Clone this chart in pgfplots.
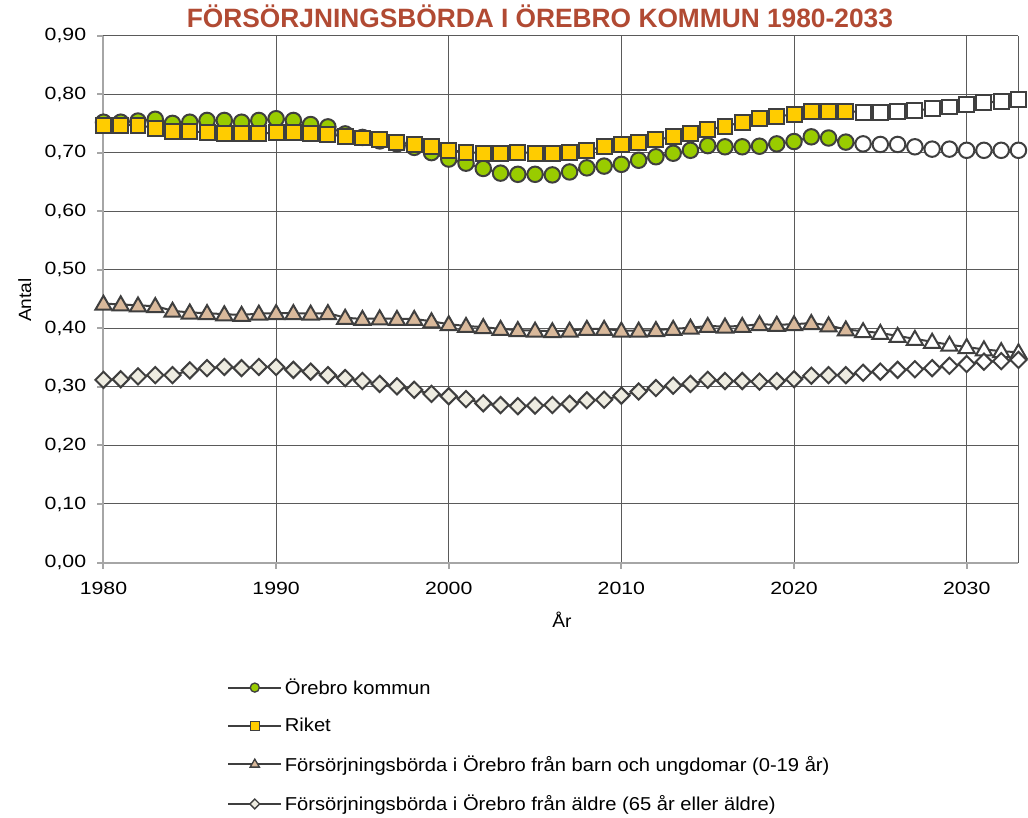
\documentclass[border=0pt]{standalone}
\usepackage{pgfplots}
\pgfplotsset{compat=1.18}
\usepackage{pgfplotstable}
\usepackage{graphicx}
\usepackage{fontspec}
\setmainfont[FakeStretch=1.08]{Liberation Sans}
\newfontfamily\tickfont[FakeStretch=1.2]{Liberation Sans}

\definecolor{kgreen}{HTML}{99CC00}
\definecolor{ryellow}{HTML}{FFCC00}
\definecolor{btan}{HTML}{D9B99B}
\definecolor{abeige}{HTML}{EEECE1}
\definecolor{edge}{HTML}{3F3F3F}
\definecolor{titlered}{HTML}{B14A33}
\definecolor{axgray}{HTML}{A6A6A6}
\definecolor{gridc}{HTML}{5A5A5A}

\pgfplotstableread{
year kom riket barn aldre
1980 0.752 0.747 0.442 0.312
1981 0.752 0.747 0.441 0.313
1982 0.754 0.747 0.439 0.318
1983 0.757 0.742 0.438 0.320
1984 0.750 0.736 0.430 0.320
1985 0.752 0.736 0.427 0.328
1986 0.755 0.735 0.426 0.332
1987 0.755 0.732 0.424 0.334
1988 0.752 0.732 0.423 0.332
1989 0.755 0.733 0.425 0.334
1990 0.758 0.734 0.426 0.334
1991 0.755 0.734 0.426 0.329
1992 0.748 0.732 0.425 0.326
1993 0.744 0.731 0.426 0.320
1994 0.732 0.728 0.418 0.315
1995 0.726 0.725 0.416 0.310
1996 0.720 0.722 0.417 0.305
1997 0.715 0.718 0.416 0.301
1998 0.709 0.714 0.416 0.295
1999 0.700 0.710 0.412 0.288
2000 0.689 0.704 0.407 0.284
2001 0.682 0.701 0.404 0.279
2002 0.673 0.699 0.402 0.272
2003 0.665 0.699 0.399 0.269
2004 0.663 0.701 0.397 0.267
2005 0.663 0.699 0.396 0.268
2006 0.662 0.699 0.395 0.269
2007 0.667 0.701 0.396 0.271
2008 0.674 0.704 0.399 0.277
2009 0.677 0.710 0.399 0.278
2010 0.680 0.714 0.396 0.285
2011 0.687 0.718 0.396 0.292
2012 0.693 0.722 0.397 0.298
2013 0.699 0.727 0.399 0.302
2014 0.704 0.732 0.401 0.305
2015 0.712 0.739 0.404 0.312
2016 0.710 0.745 0.403 0.310
2017 0.710 0.752 0.404 0.310
2018 0.711 0.759 0.407 0.309
2019 0.715 0.762 0.406 0.310
2020 0.719 0.765 0.407 0.313
2021 0.727 0.771 0.409 0.319
2022 0.725 0.771 0.405 0.320
2023 0.718 0.771 0.398 0.320
2024 0.715 0.769 0.395 0.324
2025 0.714 0.769 0.392 0.326
2026 0.714 0.771 0.387 0.329
2027 0.710 0.772 0.382 0.330
2028 0.706 0.775 0.377 0.332
2029 0.706 0.778 0.372 0.336
2030 0.704 0.782 0.368 0.339
2031 0.704 0.785 0.364 0.343
2032 0.704 0.788 0.361 0.344
2033 0.704 0.791 0.359 0.346
}\data

\begin{document}
\begin{tikzpicture}
\useasboundingbox (-77.6pt,-190.9pt) rectangle (693.4pt,421.9pt);
\begin{axis}[
  width=686.25pt, height=395.25pt, scale only axis,
  xmin=1980, xmax=2033, ymin=0, ymax=0.9,
  xtick={1980,1990,2000,2010,2020,2030},
  ytick={0,0.1,0.2,0.3,0.4,0.5,0.6,0.7,0.8,0.9},
  extra x ticks={2033}, extra x tick labels={},
  extra x tick style={grid=major, major tick length=0pt},
  axis x line=bottom, axis y line=left,
  axis line style={axgray, line width=1.5pt, -},
  tick align=outside, major tick length=4.5pt,
  tick style={axgray, line width=1.5pt},
  grid=major,
  major grid style={gridc, line width=0.75pt},
  clip=false,
  /pgf/number format/assume math mode=true,
  yticklabel style={font=\tickfont\fontsize{13.3}{14}\selectfont, /pgf/number format/.cd, fixed, fixed zerofill, precision=2, use comma, /tikz/.cd, xshift=-5pt},
  xticklabel style={font=\tickfont\fontsize{13.3}{14}\selectfont, /pgf/number format/1000 sep={}, yshift=-7pt},
  xlabel={År}, ylabel={Antal},
  label style={font=\fontsize{13.3}{14}\selectfont},
  xlabel style={at={(axis description cs:0.501,-0.109)}, anchor=center},
  ylabel style={at={(axis description cs:-0.086,0.498)}, anchor=center, rotate=0},
  title={\resizebox{529.5pt}{\height}{\fontsize{19.9}{20}\selectfont\bfseries FÖRSÖRJNINGSBÖRDA I ÖREBRO KOMMUN 1980-2033}},
  title style={at={(axis description cs:0.477,1.0009)}, anchor=base, text=titlered, inner sep=0pt},
  legend style={at={(axis description cs:0.135,-0.215)}, anchor=north west, draw=none, fill=none,
     font=\fontsize{14}{16}\selectfont, row sep=12.4pt, inner sep=0pt,
     /tikz/every even column/.append style={column sep=3pt}},
  legend cell align=left,
  legend image code/.code={
     \draw[#1, mark=none] (0pt,0pt) -- (39.75pt,0pt);
     \draw[#1, only marks] plot coordinates {(19.9pt,0pt)};
  },
]
% Orebro kommun
\addplot[edge, line width=1.5pt, no marks, forget plot] table[x=year,y=kom]{\data};
\addplot[only marks, mark=*, mark size=5.8pt, mark options={fill=kgreen, draw=edge, line width=1.5pt}, restrict x to domain=1980:2023, forget plot] table[x=year,y=kom]{\data};
\addplot[only marks, mark=*, mark size=5.8pt, mark options={fill=white, draw=edge, line width=1.5pt}, restrict x to domain=2024:2033, forget plot] table[x=year,y=kom]{\data};
% Riket
\addplot[edge, line width=1.5pt, no marks, forget plot] table[x=year,y=riket]{\data};
\addplot[only marks, mark=square*, mark size=5.6pt, mark options={fill=ryellow, draw=edge, line width=1.5pt}, restrict x to domain=1980:2023, forget plot] table[x=year,y=riket]{\data};
\addplot[only marks, mark=square*, mark size=5.6pt, mark options={fill=white, draw=edge, line width=1.5pt}, restrict x to domain=2024:2033, forget plot] table[x=year,y=riket]{\data};
% Barn
\addplot[edge, line width=1.5pt, no marks, forget plot] table[x=year,y=barn]{\data};
\addplot[only marks, mark=triangle*, mark size=7pt, mark options={fill=btan, draw=edge, line width=1.5pt, yshift=-1pt}, restrict x to domain=1980:2023, forget plot] table[x=year,y=barn]{\data};
\addplot[only marks, mark=triangle*, mark size=7pt, mark options={fill=white, draw=edge, line width=1.5pt, yshift=-1pt}, restrict x to domain=2024:2033, forget plot] table[x=year,y=barn]{\data};
% Aldre
\addplot[edge, line width=1.5pt, no marks, forget plot] table[x=year,y=aldre]{\data};
\addplot[only marks, mark=square*, mark size=4.3pt, mark options={rotate=45, fill=abeige, draw=edge, line width=1.5pt}, restrict x to domain=1980:2023, forget plot] table[x=year,y=aldre]{\data};
\addplot[only marks, mark=square*, mark size=4.3pt, mark options={rotate=45, fill=white, draw=edge, line width=1.5pt}, restrict x to domain=2024:2033, forget plot] table[x=year,y=aldre]{\data};

\addlegendimage{edge, line width=1.5pt, mark=*, mark size=3.4pt, mark options={fill=kgreen, draw=edge, line width=1pt}}
\addlegendentry{Örebro kommun}
\addlegendimage{edge, line width=1.5pt, mark=square*, mark size=3.3pt, mark options={fill=ryellow, draw=edge, line width=1pt}}
\addlegendentry{Riket}
\addlegendimage{edge, line width=1.5pt, mark=triangle*, mark size=4pt, mark options={fill=btan, draw=edge, line width=1pt}}
\addlegendentry{Försörjningsbörda i Örebro från barn och ungdomar (0-19 år)}
\addlegendimage{edge, line width=1.5pt, mark=square*, mark size=2.6pt, mark options={rotate=45, fill=abeige, draw=edge, line width=1pt}}
\addlegendentry{Försörjningsbörda i Örebro från äldre (65 år eller äldre)}
\end{axis}
\end{tikzpicture}
\end{document}
